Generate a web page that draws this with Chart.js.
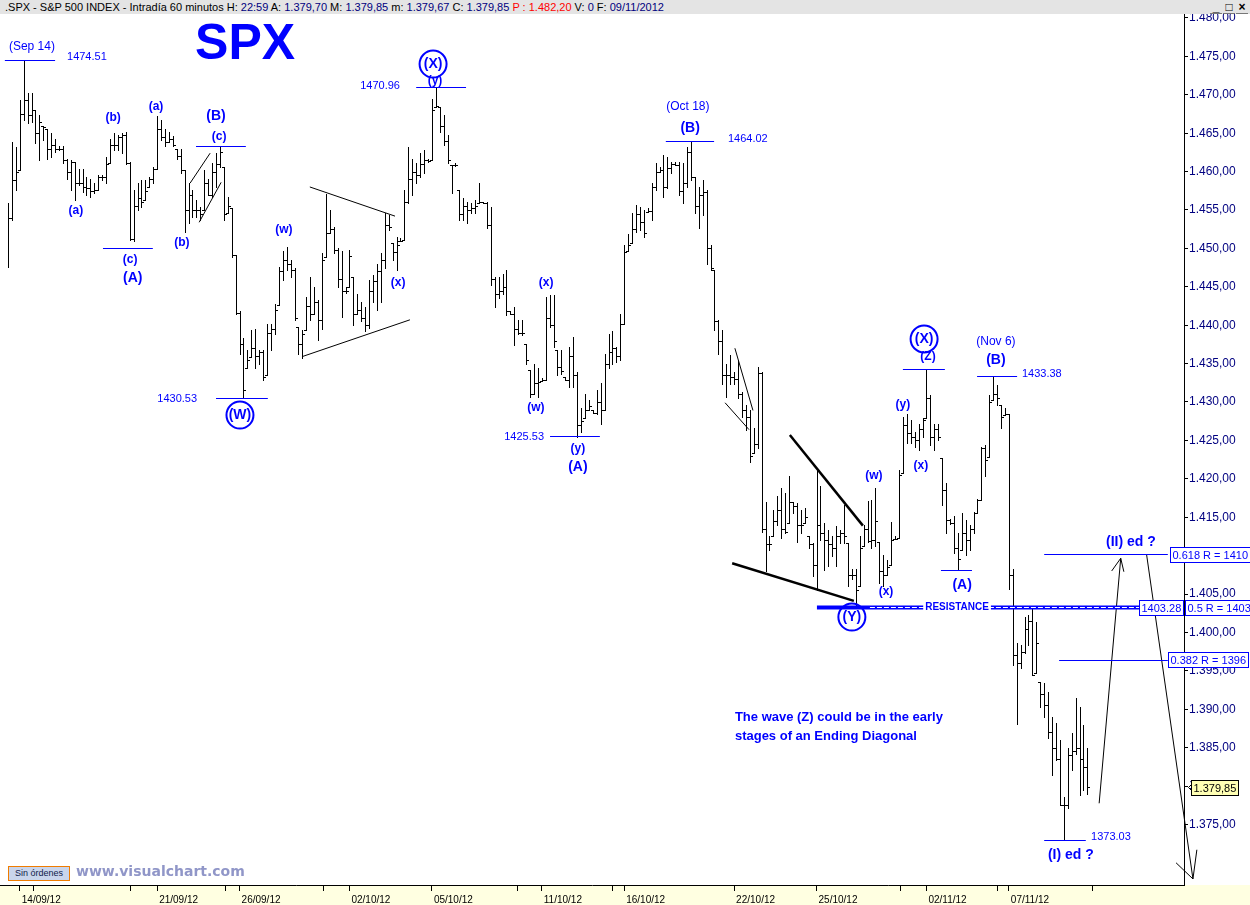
<!DOCTYPE html>
<html lang="es">
<head>
<meta charset="UTF-8">
<title>SPX - Intradía 60 minutos</title>
<script src="https://cdn.jsdelivr.net/npm/chart.js"></script>
<style>
  body { margin: 0; background: #fff; }
  #wrap { position: relative; width: 1250px; height: 905px; overflow: hidden; }
  #head { position: absolute; left: 0; top: 0; width: 1250px; height: 14px; background: #e4e4e4;
          font: 11px "Liberation Sans", Arial, sans-serif; line-height: 14px; white-space: nowrap; color: #000; }
  #head .t { position: absolute; left: 5px; top: 0; }
  #head .v { color: #00007f; }
  #head .r { color: #ff0000; }
  #head .btn { position: absolute; left: 1210px; top: 0; width: 40px; }
  #head .btn span { display: inline-block; width: 12px; height: 11px; margin-right: 1px; text-align: center;
                    font: bold 12px "Liberation Sans", Arial, sans-serif; line-height: 11px; border-bottom: 1px solid #777; }
  #sin { position: absolute; left: 8px; top: 866px; width: 60px; height: 13px; background: #c9d5ec;
         border: 1px solid #f07c00; font: 9px "Liberation Sans", Arial, sans-serif; line-height: 13px;
         text-align: center; color: #10204a; }
  #vc { position: absolute; left: 76px; top: 863px; font: bold 14px "DejaVu Sans", Verdana, sans-serif; color: #9096c8; }
</style>
</head>
<body>
<div id="wrap">
  <canvas id="c" width="1250" height="905"></canvas>
  <div id="head"><span class="t">.SPX - S&amp;P 500 INDEX - Intradía 60 minutos H: <span class="v">22:59</span> A: <span class="v">1.379,70</span> M: <span class="v">1.379,85</span> m: <span class="v">1.379,67</span> C: <span class="v">1.379,85</span> <span class="r">P : 1.482,20</span> V: <span class="v">0</span> F: <span class="v">09/11/2012</span></span><span class="btn"><span>_</span><span>□</span><span>×</span></span></div>
  <div id="sin">Sin órdenes</div>
  <div id="vc">www.visualchart.com</div>
</div>
<script>
// hourly bars, 7 per session (first line: last 3 bars of 13/09)
const highs = [
  1455.9,1463.9,1463.2,
  1469.3,1474.5,1470.2,1470.2,1468.0,1467.4,1466.0,
  1465.6,1465.0,1464.3,1463.3,1463.3,1461.7,1461.5,
  1461.3,1460.4,1460.4,1459.3,1459.1,1458.5,1459.6,
  1459.6,1461.9,1464.3,1465.0,1464.8,1465.0,1465.2,
  1461.3,1457.6,1458.5,1458.9,1458.9,1459.3,1460.6,
  1467.2,1466.7,1465.6,1465.2,1464.6,1463.0,1463.0,
  1460.2,1458.5,1457.6,1456.3,1455.4,1460.2,1459.1,
  1461.1,1462.4,1463.2,1460.6,1456.7,1455.2,1449.1,
  1441.8,1438.3,1436.8,1439.4,1439.5,1436.8,1436.8,
  1440.2,1440.2,1442.8,1447.6,1449.6,1450.2,1448.5,
  1447.4,1439.8,1439.4,1443.7,1446.3,1445.0,1443.3,
  1449.4,1457.1,1455.0,1452.8,1450.0,1449.6,1445.0,
  1449.8,1446.3,1444.1,1443.0,1442.4,1445.9,1446.5,
  1448.0,1449.4,1454.6,1454.4,1450.7,1451.5,1451.3,
  1457.6,1463.2,1461.7,1461.1,1462.4,1462.8,1461.7,
  1469.5,1471.0,1468.4,1467.4,1464.8,1460.9,1461.1,
  1457.6,1456.5,1456.1,1455.9,1456.3,1458.5,1456.1,
  1456.1,1455.4,1446.3,1446.3,1446.7,1447.2,1441.8,
  1442.4,1440.7,1440.7,1437.6,1434.2,1435.0,1434.4,
  1433.1,1443.7,1443.9,1443.9,1436.8,1436.8,1433.3,
  1437.2,1438.5,1433.9,1429.2,1431.1,1430.3,1429.0,
  1431.6,1432.5,1436.3,1438.9,1439.2,1437.2,1441.5,
  1450.4,1451.9,1454.6,1455.6,1455.4,1455.0,1455.2,
  1458.5,1461.1,1460.6,1462.2,1461.9,1461.3,1461.3,
  1461.3,1461.1,1463.2,1464.0,1459.3,1458.0,1458.9,
  1457.6,1450.4,1447.2,1440.7,1439.4,1435.0,1436.1,
  1433.9,1435.5,1431.3,1429.6,1429.0,1426.6,1434.5,
  1433.9,1417.0,1412.5,1415.9,1417.7,1418.8,1418.1,
  1420.3,1417.0,1416.8,1415.9,1416.2,1412.5,1411.6,
  1421.1,1419.0,1414.2,1413.3,1412.5,1413.8,1413.3,
  1416.6,1411.6,1408.3,1408.3,1412.5,1414.0,1417.1,
  1417.2,1418.8,1411.8,1410.1,1409.4,1414.4,1412.6,
  1421.1,1428.1,1428.5,1427.7,1426.1,1427.2,1427.9,
  1434.3,1430.9,1427.2,1427.2,1422.7,1419.4,1414.8,
  1415.1,1412.9,1415.5,1414.6,1414.0,1415.7,1417.4,
  1424.2,1424.4,1430.9,1433.4,1432.2,1429.6,1429.2,
  1428.4,1408.3,1398.6,1398.4,1402.0,1402.3,1403.3,
  1401.4,1393.6,1393.4,1392.3,1389.0,1388.2,1386.0,
  1378.6,1384.9,1386.9,1391.4,1390.3,1387.9,1384.9
];
const lows = [
  1447.6,1453.7,1457.6,
  1460.2,1466.7,1466.3,1466.5,1463.7,1461.5,1464.1,
  1461.7,1461.9,1462.6,1462.8,1461.1,1459.1,1457.6,
  1456.3,1458.3,1457.4,1457.0,1456.7,1457.2,1457.6,
  1458.9,1458.5,1461.1,1462.8,1462.8,1462.4,1461.0,
  1451.1,1450.9,1455.0,1455.4,1456.3,1458.0,1458.5,
  1460.4,1464.1,1463.3,1463.9,1463.3,1461.7,1459.8,
  1452.2,1453.3,1454.1,1454.1,1453.7,1455.0,1456.9,
  1456.7,1458.0,1460.6,1453.7,1454.6,1448.9,1441.5,
  1436.3,1430.5,1434.4,1435.9,1434.4,1435.0,1432.9,
  1433.5,1436.8,1438.9,1442.6,1445.9,1447.2,1446.3,
  1440.7,1436.3,1435.7,1439.4,1440.7,1441.5,1438.1,
  1439.5,1448.9,1452.0,1449.4,1445.0,1441.1,1444.2,
  1445.0,1440.0,1441.5,1440.5,1439.2,1439.6,1443.0,
  1442.0,1443.0,1447.5,1452.4,1448.5,1447.2,1451.0,
  1451.1,1455.9,1457.0,1458.5,1459.3,1459.8,1461.3,
  1461.5,1468.4,1465.2,1463.5,1461.1,1457.2,1460.7,
  1453.7,1453.7,1453.3,1454.6,1454.6,1455.9,1455.9,
  1452.6,1445.2,1442.4,1443.5,1444.1,1441.3,1441.4,
  1437.4,1438.9,1438.7,1435.0,1430.7,1431.1,1430.7,
  1432.7,1432.9,1439.8,1437.2,1433.5,1433.7,1432.8,
  1432.0,1432.0,1425.5,1426.1,1427.9,1428.9,1428.6,
  1428.5,1427.2,1428.9,1434.4,1435.0,1435.2,1435.5,
  1440.2,1449.6,1450.7,1452.2,1452.4,1451.5,1454.8,
  1453.7,1457.6,1460.0,1456.7,1457.8,1459.8,1460.8,
  1457.0,1455.9,1458.0,1458.9,1454.6,1452.6,1454.3,
  1448.0,1447.2,1439.4,1436.3,1432.4,1430.7,1432.4,
  1432.4,1430.5,1428.0,1426.4,1422.2,1423.3,1424.0,
  1413.1,1408.0,1410.7,1412.5,1414.0,1412.3,1412.9,
  1414.2,1415.5,1411.8,1412.9,1414.2,1411.0,1407.3,
  1405.5,1412.0,1408.1,1408.6,1409.9,1408.6,1411.6,
  1411.6,1406.0,1407.0,1403.3,1406.0,1411.2,1411.8,
  1411.0,1411.2,1406.4,1406.0,1407.5,1408.8,1412.2,
  1412.3,1420.7,1424.6,1424.6,1424.2,1423.7,1425.5,
  1427.9,1424.4,1423.7,1425.0,1416.6,1412.9,1414.1,
  1410.3,1408.1,1410.7,1410.1,1410.7,1412.9,1415.5,
  1417.2,1420.3,1422.9,1430.3,1429.6,1426.6,1428.3,
  1405.7,1395.8,1388.1,1395.3,1397.3,1398.4,1394.5,
  1394.7,1390.3,1389.0,1386.2,1381.4,1383.4,1377.5,
  1373.0,1377.1,1382.1,1384.2,1378.8,1379.5,1379.0
];
const closes = [
  1453.9,1458.9,1460.0,
  1467.5,1469.3,1467.4,1468.0,1465.0,1466.5,1465.8,
  1463.0,1463.5,1463.0,1463.0,1461.5,1460.0,1461.2,
  1458.5,1458.5,1458.0,1457.8,1457.5,1457.6,1459.3,
  1459.3,1461.0,1463.5,1463.5,1464.5,1464.8,1461.1,
  1451.2,1455.5,1456.5,1456.0,1457.5,1459.0,1460.3,
  1465.5,1464.5,1463.8,1464.3,1463.5,1462.0,1460.2,
  1455.0,1457.0,1455.0,1455.0,1454.5,1458.5,1456.9,
  1460.0,1461.0,1462.5,1454.5,1455.5,1449.2,1441.6,
  1437.6,1431.6,1435.5,1437.0,1436.0,1436.5,1433.3,
  1439.0,1439.5,1442.0,1447.0,1448.5,1448.0,1447.2,
  1441.0,1437.5,1438.8,1442.5,1441.5,1443.0,1440.7,
  1448.5,1452.0,1452.5,1449.8,1446.0,1444.5,1444.5,
  1449.0,1441.5,1442.0,1441.0,1440.0,1444.5,1445.8,
  1447.0,1448.5,1453.0,1452.8,1449.5,1450.5,1451.0,
  1456.0,1459.0,1460.0,1459.5,1461.0,1461.5,1461.4,
  1468.0,1468.6,1466.0,1464.0,1461.5,1460.8,1460.9,
  1454.5,1455.5,1455.0,1455.2,1455.5,1456.0,1455.9,
  1453.0,1446.0,1444.0,1444.5,1445.0,1441.8,1441.5,
  1439.5,1439.0,1439.0,1435.5,1431.0,1432.5,1432.6,
  1432.9,1441.0,1440.0,1438.0,1434.5,1434.0,1432.8,
  1436.0,1433.5,1427.0,1427.5,1429.0,1429.5,1428.6,
  1430.0,1429.0,1435.0,1436.5,1437.0,1436.0,1440.1,
  1449.5,1450.5,1452.5,1454.5,1453.5,1452.0,1454.9,
  1458.0,1460.0,1460.2,1458.0,1460.5,1461.0,1460.9,
  1457.5,1458.5,1462.5,1459.3,1455.5,1457.0,1457.3,
  1450.0,1447.5,1440.5,1438.0,1433.5,1433.5,1433.2,
  1433.0,1431.0,1429.0,1428.0,1423.0,1424.5,1433.8,
  1413.5,1411.5,1411.5,1414.5,1416.0,1413.5,1413.1,
  1417.0,1416.5,1414.0,1414.0,1415.0,1411.5,1408.8,
  1414.0,1413.0,1412.0,1411.5,1411.0,1412.5,1413.0,
  1412.5,1407.5,1407.5,1405.5,1411.0,1413.5,1411.9,
  1412.0,1414.5,1408.0,1407.5,1408.5,1412.0,1412.2,
  1420.5,1427.0,1426.0,1425.5,1425.0,1426.5,1427.6,
  1430.5,1425.5,1426.5,1425.5,1418.5,1414.6,1414.2,
  1411.0,1409.5,1413.0,1412.0,1413.5,1415.5,1417.3,
  1424.0,1422.5,1430.0,1431.0,1430.5,1428.0,1428.4,
  1407.5,1397.0,1396.0,1397.5,1400.5,1401.5,1394.5,
  1398.6,1392.0,1390.5,1387.0,1385.0,1383.5,1377.5,
  1377.5,1384.0,1384.5,1385.0,1383.5,1382.5,1379.9
];
// session starts (bar index) that carry a date label, plus unlabeled axis marks
const dayStarts = [3, 38, 59, 87, 108, 136, 157, 185, 206, 234, 255];
const dayLabels = ['14/09/12','21/09/12','26/09/12','02/10/12','05/10/12','11/10/12','16/10/12','22/10/12','25/10/12','02/11/12','07/11/12'];
const minorMarks = [6.6, 31.1, 55.5, 80.3, 129.7, 153.9, 227.5, 252.0, 276.4];
const lastPrice = 1379.85;

// ---- annotations, positioned in (bar index, price) ----
const FF = '"Liberation Sans", Arial, sans-serif';
const BLUE = '#0000ff';
const smallWaves = [
  ['(a)', 17.3, 1454.9], ['(b)', 26.8, 1467.0], ['(a)', 37.7, 1468.5], ['(c)', 31.1, 1448.5],
  ['(b)', 44.3, 1450.7], ['(c)', 53.8, 1464.5], ['(w)', 70.3, 1452.4], ['(x)', 99.4, 1445.6],
  ['(y)', 108.8, 1471.9], ['(w)', 134.5, 1429.2], ['(x)', 137.1, 1445.5], ['(y)', 145.2, 1423.9],
  ['(w)', 220.6, 1420.4], ['(x)', 223.7, 1405.3], ['(y)', 228.0, 1429.7], ['(x)', 232.6, 1421.7],
  ['(Z)', 234.4, 1435.9]
];
const bigWaves = [
  ['(A)', 31.8, 1446.1], ['(B)', 53.0, 1467.2], ['(A)', 145.2, 1421.5],
  ['(B)', 173.8, 1465.7], ['(A)', 243.1, 1406.2], ['(B)', 251.7, 1435.5]
];
const circledWaves = [['(W)', 59.1, 1428.3], ['(X)', 108.3, 1474.0], ['(Y)', 215.0, 1402.0], ['(X)', 233.4, 1438.2]];
const dateNotes = [['(Sep 14)', 6.1, 1476.2], ['(Oct 18)', 173.2, 1468.5], ['(Nov 6)', 251.7, 1437.8]];
const priceNotes = [
  ['1474.51', 20.1, 1474.9], ['1430.53', 43.1, 1430.4], ['1470.96', 94.8, 1471.1], ['1425.53', 131.5, 1425.4],
  ['1464.02', 188.5, 1464.2], ['1433.38', 263.4, 1433.6], ['1373.03', 281.0, 1373.4]
];
const levelLines = [
  [-0.8, 12.0, 1474.51], [24.2, 36.9, 1450.05], [47.9, 60.6, 1463.3], [53.0, 66.2, 1430.53],
  [104.0, 116.7, 1470.96], [138.1, 150.8, 1425.53], [167.6, 179.9, 1464.02], [228.0, 238.7, 1434.27],
  [237.7, 245.6, 1408.13], [246.9, 257.1, 1433.38], [264.0, 274.6, 1373.03],
  [264.0, 295.5, 1410.2], [267.8, 295.5, 1396.4]
];
const trendLines = [
  [46.4, 1458.5, 51.5, 1462.4, 1], [48.7, 1453.4, 54.3, 1458.6, 1],
  [76.9, 1458.0, 98.6, 1454.2, 1], [74.9, 1435.9, 102.4, 1440.7, 1],
  [185.2, 1437.0, 189.8, 1428.9, 1], [182.7, 1429.9, 188.8, 1426.4, 1],
  [199.2, 1425.7, 217.8, 1413.9, 2.5], [184.5, 1409.0, 215.5, 1404.1, 2.5],
  [278.0, 1377.75, 283.5, 1409.65, 1], [281.2, 1408.0, 283.5, 1409.65, 1], [283.5, 1409.65, 284.3, 1407.9, 1],
  [290.1, 1410.1, 301.9, 1367.9, 1], [297.6, 1370.0, 301.9, 1367.9, 1], [301.9, 1367.9, 302.9, 1371.7, 1]
];
const resistance = { from: 206.1, to: 288.2, price: 1403.28, textAt: 241.8, lowFrom: 205.6, lowTo: 219.6 };
const boxes = [
  ['1403.28', 288.2, 1403.28], ['0.5 R = 1403', 299.9, 1403.28],
  ['0.618 R = 1410', 296.1, 1410.1], ['0.382 R = 1396', 295.5, 1396.5]
];
const projNotes = [['(II) ed ?', 286.1, 1411.8], ['(I) ed ?', 270.8, 1371.0]];
const comment = [['The wave (Z) could be in the early', 185.2, 1388.9], ['stages of an Ending Diagonal', 185.2, 1386.4]];

const fmt = v => {
  const [a, b] = v.toFixed(2).split('.');
  return a.replace(/\B(?=(\d{3})+(?!\d))/g, '.') + ',' + b;
};

const background = {
  id: 'background',
  beforeDraw(chart) {
    const { ctx, width, height, chartArea } = chart;
    ctx.save();
    ctx.fillStyle = '#fff';
    ctx.fillRect(0, 0, width, height);
    ctx.fillStyle = '#ffffe1';
    ctx.fillRect(0, chartArea.bottom, width, height - chartArea.bottom);
    ctx.restore();
  }
};

const ohlc = {
  id: 'ohlc',
  afterDatasetsDraw(chart) {
    const { ctx, scales: { x: xs, y: ys } } = chart;
    ctx.save();
    ctx.fillStyle = '#000';
    highs.forEach((h, i) => {
      const x = Math.round(xs.getPixelForValue(i));
      const yh = Math.round(ys.getPixelForValue(h));
      const yl = Math.round(ys.getPixelForValue(lows[i]));
      ctx.fillRect(x, yh, 1, Math.max(1, yl - yh + 1));
      ctx.fillRect(x + 1, Math.round(ys.getPixelForValue(closes[i])), 2, 1);
      if (i > 0) {
        const o = Math.min(h, Math.max(lows[i], closes[i - 1]));
        ctx.fillRect(x - 2, Math.round(ys.getPixelForValue(o)), 2, 1);
      }
    });
    ctx.restore();
  }
};

const notes = {
  id: 'notes',
  afterDraw(chart) {
    const { ctx, scales: { x: xs, y: ys } } = chart;
    const X = i => xs.getPixelForValue(i);
    const Y = v => ys.getPixelForValue(v);
    const text = (s, i, v, font, color, align) => {
      ctx.font = font;
      ctx.fillStyle = color;
      ctx.textAlign = align || 'center';
      ctx.textBaseline = 'middle';
      ctx.fillText(s, X(i), Y(v));
    };
    ctx.save();

    ctx.strokeStyle = '#000';
    trendLines.forEach(([i0, v0, i1, v1, w]) => {
      ctx.lineWidth = w;
      ctx.beginPath();
      ctx.moveTo(X(i0), Y(v0));
      ctx.lineTo(X(i1), Y(v1));
      ctx.stroke();
    });

    ctx.strokeStyle = BLUE;
    ctx.lineWidth = 1;
    levelLines.forEach(([i0, i1, v]) => {
      const y = Math.round(Y(v)) + 0.5;
      ctx.beginPath();
      ctx.moveTo(X(i0), y);
      ctx.lineTo(X(i1), y);
      ctx.stroke();
    });

    // resistance: thick blue with white dashes
    const yr = Math.round(Y(resistance.price)) + 0.5;
    ctx.lineWidth = 4;
    ctx.beginPath();
    ctx.moveTo(X(resistance.from), yr);
    ctx.lineTo(X(resistance.to), yr);
    ctx.stroke();
    ctx.strokeStyle = '#fff';
    ctx.lineWidth = 1;
    ctx.setLineDash([5, 2]);
    ctx.beginPath();
    ctx.moveTo(X(resistance.lowTo), yr);
    ctx.lineTo(X(resistance.to), yr);
    ctx.stroke();
    ctx.setLineDash([]);
    ctx.font = 'bold 10px ' + FF;
    const rw = ctx.measureText('RESISTANCE').width + 4;
    ctx.fillStyle = '#fff';
    ctx.fillRect(X(resistance.textAt) - rw / 2, yr - 6, rw, 12);
    text('RESISTANCE', resistance.textAt, resistance.price, 'bold 10px ' + FF, BLUE);

    smallWaves.forEach(([s, i, v]) => text(s, i, v, 'bold 12px ' + FF, BLUE));
    bigWaves.forEach(([s, i, v]) => text(s, i, v, 'bold 14px ' + FF, BLUE));
    dateNotes.forEach(([s, i, v]) => text(s, i, v, '12px ' + FF, BLUE));
    priceNotes.forEach(([s, i, v]) => text(s, i, v, '11px ' + FF, BLUE));
    projNotes.forEach(([s, i, v]) => text(s, i, v, 'bold 14px ' + FF, BLUE));
    comment.forEach(([s, i, v]) => text(s, i, v, 'bold 13px ' + FF, BLUE, 'left'));

    circledWaves.forEach(([s, i, v]) => {
      ctx.strokeStyle = BLUE;
      ctx.lineWidth = 2;
      ctx.beginPath();
      ctx.arc(X(i), Y(v), 13.5, 0, Math.PI * 2);
      ctx.stroke();
      text(s, i, v, 'bold 14px ' + FF, BLUE);
    });

    text('SPX', 60.4, 1476.4, 'bold 50px ' + FF, BLUE);

    const box = (s, i, v, bg, fg, border) => {
      ctx.font = '11px ' + FF;
      const w = Math.ceil(ctx.measureText(s).width) + 4, h = 15;
      const x0 = Math.round(X(i)) + 0.5, y0 = Math.round(Y(v) - h / 2) + 0.5;
      ctx.fillStyle = bg;
      ctx.fillRect(x0, y0, w, h);
      ctx.strokeStyle = border;
      ctx.lineWidth = 1;
      ctx.strokeRect(x0, y0, w, h);
      ctx.fillStyle = fg;
      ctx.textAlign = 'left';
      ctx.textBaseline = 'middle';
      ctx.fillText(s, x0 + 2, y0 + h / 2 + 0.5);
    };
    boxes.forEach(([s, i, v]) => box(s, i, v, '#fff', BLUE, BLUE));
    box(fmt(lastPrice), 301.4, lastPrice, '#ffffb4', '#000', '#000');
    const ly = Math.round(Y(lastPrice)) + 0.5, lx = Math.round(X(300.6)) + 0.5;
    ctx.strokeStyle = '#000';
    ctx.beginPath();
    ctx.moveTo(lx + 3, ly - 3); ctx.lineTo(lx, ly); ctx.lineTo(lx + 3, ly + 3);
    ctx.stroke();

    ctx.restore();
  }
};

new Chart(document.getElementById('c'), {
  type: 'line',
  data: {
    datasets: [{
      data: closes.map((c, i) => ({ x: i, y: c })),
      showLine: false, pointRadius: 0, pointHoverRadius: 0
    }]
  },
  options: {
    responsive: false,
    animation: false,
    devicePixelRatio: 1,
    events: [],
    layout: { padding: { top: 14, left: 0, right: 0, bottom: 0 } },
    plugins: { legend: { display: false }, tooltip: { enabled: false } },
    scales: {
      x: {
        type: 'linear',
        min: -2.038, max: 299.62,
        afterBuildTicks: s => { s.ticks = dayStarts.concat(minorMarks).sort((a, b) => a - b).map(v => ({ value: v })); },
        afterFit: s => { s.height = 20; },
        ticks: {
          autoSkip: false, maxRotation: 0, align: 'start', labelOffset: 2, padding: 3,
          color: '#000', font: { size: 10, family: FF },
          callback: v => { const k = dayStarts.indexOf(v); return k >= 0 ? dayLabels[k] : ''; }
        },
        grid: { drawOnChartArea: false, drawTicks: true, tickLength: 6, color: '#000' },
        border: { display: true, color: '#000' }
      },
      y: {
        position: 'right',
        min: 1367.11, max: 1480.52,
        afterBuildTicks: s => { s.ticks = s.ticks.filter(t => t.value >= 1375); },
        afterFit: s => { s.width = 66; },
        ticks: {
          stepSize: 5, includeBounds: false, autoSkip: false, padding: 1,
          color: '#000080', font: { size: 12, family: FF },
          callback: v => fmt(v)
        },
        grid: { drawOnChartArea: false, drawTicks: true, tickLength: 4, color: '#000' },
        border: { display: true, color: '#000' }
      }
    }
  },
  plugins: [background, ohlc, notes]
});
</script>
</body>
</html>
